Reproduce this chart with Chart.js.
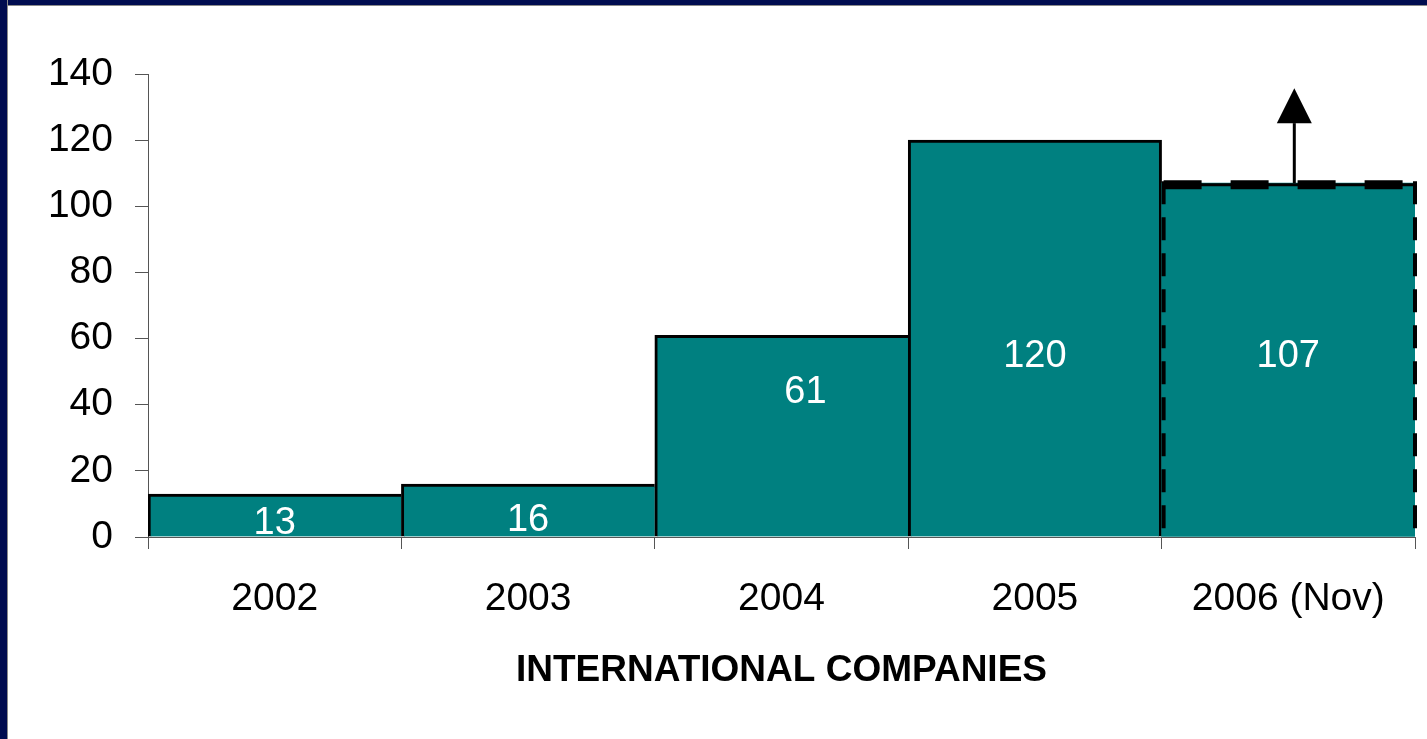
<!DOCTYPE html>
<html>
<head>
<meta charset="utf-8">
<script src="https://cdn.jsdelivr.net/npm/chart.js@4.4.1/dist/chart.umd.min.js"></script>
<style>
  html, body { margin: 0; padding: 0; background: #ffffff; }
  #wrap { position: relative; width: 1427px; height: 739px; overflow: hidden; background: #ffffff; }
  #chart { position: absolute; left: 0; top: 0; }
  .frame-left { position: absolute; left: 0; top: 0; width: 7px; height: 739px; background: #000c50; border-right: 1px solid #8a8a8a; }
  .frame-top { position: absolute; left: 0; top: 0; width: 1427px; height: 5px; background: #000c50; border-bottom: 1px solid #8a8a8a; }
</style>
</head>
<body>
<div id="wrap">
  <canvas id="chart" width="1427" height="739"></canvas>
  <div class="frame-top"></div>
  <div class="frame-left"></div>
</div>
<script>
// Number of international companies per year
const categories = ['2002', '2003', '2004', '2005', '2006 (Nov)'];
const companies = [13, 16, 61, 120, 107];
const yMin = 0;
const yMax = 140;
const yStep = 20;
const axisTitle = 'INTERNATIONAL COMPANIES';

const TEAL = '#008080';
const FONT = "'Liberation Sans', Arial, Helvetica, sans-serif";
const lastIndex = companies.length - 1;

// Value labels written inside the bars
const valueLabels = {
  id: 'valueLabels',
  afterDatasetsDraw(chart, args, opts) {
    const ctx = chart.ctx;
    const meta = chart.getDatasetMeta(0);
    const yScale = chart.scales.y;
    ctx.save();
    ctx.fillStyle = '#ffffff';
    ctx.font = opts.size + 'px ' + FONT;
    ctx.textAlign = 'center';
    ctx.textBaseline = 'middle';
    meta.data.forEach((bar, i) => {
      const y = yScale.getPixelForValue(opts.at[i]);
      ctx.fillText(String(companies[i]), bar.x + opts.dx[i], y);
    });
    ctx.restore();
  }
};

// Open-ended last year: dashed outline and an upward arrow
const openEnded = {
  id: 'openEnded',
  afterDatasetsDraw(chart, args, opts) {
    const ctx = chart.ctx;
    const bar = chart.getDatasetMeta(0).data[lastIndex];
    const half = bar.width / 2;
    const left = bar.x - half + 2;
    const right = bar.x + half + 2;
    const top = bar.y;
    const bottom = bar.base;
    ctx.save();
    ctx.strokeStyle = '#000000';
    ctx.lineCap = 'butt';

    // thin solid top edge
    ctx.lineWidth = 3;
    ctx.beginPath();
    ctx.moveTo(left, top + 1.5);
    ctx.lineTo(right, top + 1.5);
    ctx.stroke();

    // heavy dashes along the top
    ctx.lineWidth = 9;
    ctx.setLineDash([38, 29]);
    ctx.beginPath();
    ctx.moveTo(left, top + 1.5);
    ctx.lineTo(right, top + 1.5);
    ctx.stroke();

    // dashed sides
    ctx.lineWidth = 4;
    ctx.setLineDash([23, 13]);
    ctx.beginPath();
    ctx.moveTo(left, top - 2);
    ctx.lineTo(left, bottom);
    ctx.moveTo(right - 2, top - 2);
    ctx.lineTo(right - 2, bottom);
    ctx.stroke();
    ctx.setLineDash([]);

    // arrow pointing up
    const ax = bar.x + opts.dx;
    const headBase = top - opts.shaft;
    const tip = headBase - opts.head;
    ctx.lineWidth = 3;
    ctx.beginPath();
    ctx.moveTo(ax, top);
    ctx.lineTo(ax, headBase);
    ctx.stroke();
    ctx.fillStyle = '#000000';
    ctx.beginPath();
    ctx.moveTo(ax, tip);
    ctx.lineTo(ax - opts.head / 2, headBase);
    ctx.lineTo(ax + opts.head / 2, headBase);
    ctx.closePath();
    ctx.fill();
    ctx.restore();
  }
};

new Chart(document.getElementById('chart'), {
  type: 'bar',
  data: {
    labels: categories,
    datasets: [{
      data: companies,
      backgroundColor: TEAL,
      borderColor: '#000000',
      borderSkipped: false,
      borderWidth: (c) => {
        const i = c.dataIndex;
        if (i === lastIndex) return 0;
        if (i === lastIndex - 1) return { left: 3, top: 3, right: 3, bottom: 0 };
        return { left: 3, top: 3, right: 0, bottom: 0 };
      },
      categoryPercentage: 1.0,
      barPercentage: 1.0
    }]
  },
  options: {
    responsive: false,
    animation: false,
    events: [],
    layout: { padding: { left: 0, top: 74, right: 12, bottom: 0 } },
    plugins: {
      legend: { display: false },
      tooltip: { enabled: false },
      valueLabels: { size: 38, at: [4.0, 5.0, 43.8, 54.5, 54.5], dx: [0, 0, 24, 0, 0] },
      openEnded: { dx: 6, shaft: 60, head: 35 }
    },
    scales: {
      x: {
        afterFit: (s) => { s.height = 202; },
        grid: { display: true, drawOnChartArea: false, offset: true, tickLength: 12, color: '#555555', lineWidth: 1 },
        border: { display: true, color: '#555555', width: 1 },
        ticks: { color: '#000000', padding: 27, font: { family: FONT, size: 39 }, maxRotation: 0 },
        title: { display: true, text: axisTitle, color: '#000000', padding: { top: 0, bottom: 46 }, font: { family: FONT, size: 37, weight: 'bold' } }
      },
      y: {
        min: yMin,
        max: yMax,
        afterFit: (s) => { s.width = 148; },
        grid: { display: true, drawOnChartArea: false, tickLength: 13, color: '#555555', lineWidth: 1 },
        border: { display: true, color: '#555555', width: 1 },
        ticks: { stepSize: yStep, color: '#000000', padding: 22, font: { family: FONT, size: 39 } }
      }
    }
  },
  plugins: [valueLabels, openEnded]
});
</script>
</body>
</html>
